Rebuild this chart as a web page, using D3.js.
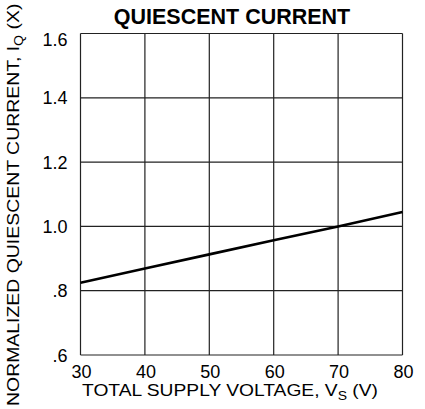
<!DOCTYPE html>
<html>
<head>
<meta charset="utf-8">
<script src="https://cdn.jsdelivr.net/npm/d3@7"></script>
<style>
    body { margin: 0; background: #fff; }
    svg text { font-family: "Liberation Sans", Arial, sans-serif; fill: #000; }
    .title { font-weight: bold; font-size: 21.5px; }
    .tick-label { font-size: 18px; }
    .axis-label { font-size: 16.5px; }
</style>
</head>
<body>
<div id="chart"></div>
<script>
// values
const voltage = [30, 40, 50, 60, 70, 80];
const current = [0.825, 0.869, 0.913, 0.957, 1.0, 1.045];
const xTicks = [30, 40, 50, 60, 70, 80];
const yTicks = [0.6, 0.8, 1.0, 1.2, 1.4, 1.6];
const yTickLabels = [".6", ".8", "1.0", "1.2", "1.4", "1.6"];

const width = 425;
const height = 409;
const margin = {top: 33.5, left: 80.5, right: 22.5, bottom: 54};

const svg = d3.select("#chart")
    .append("svg")
    .attr("width", width)
    .attr("height", height);

const xScale = d3.scaleLinear()
    .domain([30, 80])
    .range([margin.left, width - margin.right]);

const yScale = d3.scaleLinear()
    .domain([0.6, 1.6])
    .range([height - margin.bottom, margin.top]);

// grid
svg.append("g")
    .selectAll("line")
    .data(xTicks)
    .join("line")
        .attr("x1", d => xScale(d))
        .attr("x2", d => xScale(d))
        .attr("y1", yScale(0.6))
        .attr("y2", yScale(1.6))
        .attr("stroke", "#222")
        .attr("stroke-width", 1.2);

svg.append("g")
    .selectAll("line")
    .data(yTicks)
    .join("line")
        .attr("x1", xScale(30))
        .attr("x2", xScale(80))
        .attr("y1", d => yScale(d))
        .attr("y2", d => yScale(d))
        .attr("stroke", "#222")
        .attr("stroke-width", 1.2);

// tick labels
svg.append("g")
    .selectAll("text")
    .data(xTicks)
    .join("text")
        .attr("class", "tick-label")
        .attr("x", d => xScale(d) + 1)
        .attr("y", height - margin.bottom + 23)
        .attr("text-anchor", "middle")
        .text(d => d);

svg.append("g")
    .selectAll("text")
    .data(yTicks)
    .join("text")
        .attr("class", "tick-label")
        .attr("x", margin.left - 13)
        .attr("y", (d, i) => yScale(d) + (d === 1.6 ? 12.5 : 6.5))
        .attr("text-anchor", "end")
        .text((d, i) => yTickLabels[i]);

// curve
const line = d3.line()
    .x((d, i) => xScale(voltage[i]))
    .y(d => yScale(d));

svg.append("path")
    .datum(current)
    .attr("d", line)
    .attr("fill", "none")
    .attr("stroke", "#000")
    .attr("stroke-width", 2.6);

// title
svg.append("text")
    .attr("class", "title")
    .attr("x", 232)
    .attr("y", 24)
    .attr("text-anchor", "middle")
    .text("QUIESCENT CURRENT");

// x axis label (the original type is a bit wider than Liberation Sans)
const xLabel = svg.append("text")
    .attr("class", "axis-label")
    .attr("transform", "translate(82,396) scale(1.166,1)");
xLabel.append("tspan").text("TOTAL SUPPLY VOLTAGE, V");
xLabel.append("tspan").attr("dy", 4).style("font-size", "12px").text("S");
xLabel.append("tspan").attr("dy", -4).text(" (V)");

// y axis label
const yLabel = svg.append("text")
    .attr("class", "axis-label")
    .attr("transform", "translate(19,406) rotate(-90) scale(1.178,1)");
yLabel.append("tspan").text("NORMALIZED QUIESCENT CURRENT, I");
yLabel.append("tspan").attr("dy", 4).style("font-size", "12px").text("Q");
yLabel.append("tspan").attr("dy", -4).text(" (X)");
</script>
</body>
</html>
